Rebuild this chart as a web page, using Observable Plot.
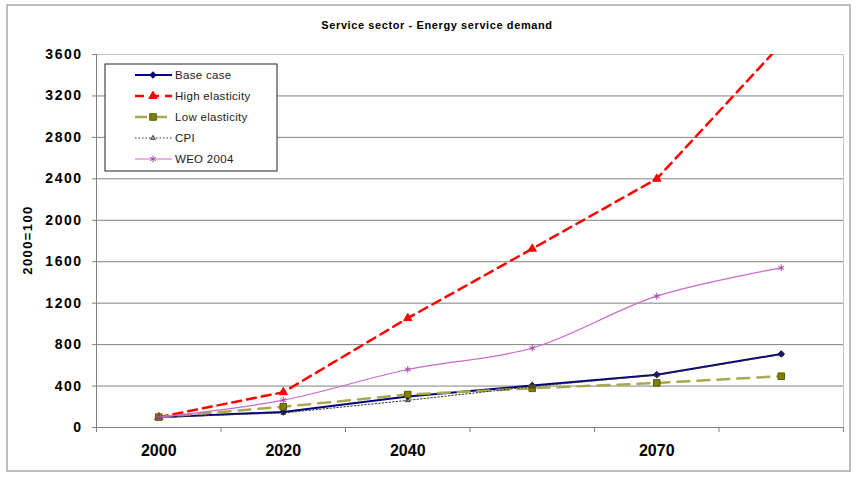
<!DOCTYPE html>
<html>
<head>
<meta charset="utf-8">
<script src="https://cdn.jsdelivr.net/npm/d3@7"></script>
<script src="https://cdn.jsdelivr.net/npm/@observablehq/plot@0.6"></script>
<style>
  body { margin: 0; background: #fff; }
  #chart { width: 856px; height: 477px; }
</style>
</head>
<body>
<div id="chart"></div>
<script>
// Index values (2000 = 100) for each scenario, one entry per period
const tickLabels = ["2000", "2020", "2040", "", "2070", ""];
const baseCase = [100, 150, 300, 405, 510, 710];
const highElasticity = [100, 340, 1055, 1725, 2400, 3700];
const lowElasticity = [100, 200, 318, 378, 430, 495];
const cpi = [100, 140, 262, 395, 505, 705];
const weo2004 = [100, 264, 560, 767, 1268, 1541];
const yTicks = [0, 400, 800, 1200, 1600, 2000, 2400, 2800, 3200, 3600];

const series = [
  { name: "Base case", values: baseCase, stroke: "#000080", width: 2, dash: null,
    curve: "linear", symbol: "diamond2", r: 2.9, fill: "#000080", mstroke: "#000080" },
  { name: "High elasticity", values: highElasticity, stroke: "#ff0000", width: 2.5, dash: "9,6",
    curve: "linear", symbol: "triangle", r: 3.1, fill: "#ff0000", mstroke: "#ff0000" },
  { name: "Low elasticity", values: lowElasticity, stroke: "#a8a850", width: 2.5, dash: "12,8",
    curve: "linear", symbol: "square", r: 3.7, fill: "#808000", mstroke: "#5a5a00" },
  { name: "CPI", values: cpi, stroke: "#333333", width: 1, dash: "1.5,2",
    curve: "linear", symbol: "triangle2", r: 2.2, fill: "none", mstroke: "#333333" },
  { name: "WEO 2004", values: weo2004, stroke: "#cc66cc", width: 1.2, dash: null,
    curve: "catmull-rom", symbol: "asterisk", r: 3.2, fill: "none", mstroke: "#aa44aa" }
];

const rowsOf = (s) => s.values.map((v, i) => ({ i, v }));
const centers = tickLabels.map((_, i) => i);
const boundaries = [...centers.map((i) => i - 0.5), centers.length - 0.5];
const xMin = boundaries[0], xMax = boundaries[boundaries.length - 1];

const marks = [
  Plot.gridY(yTicks.slice(1, -1), { stroke: "#808080", strokeOpacity: 1 }),
  Plot.ruleY([yTicks[yTicks.length - 1]], { stroke: "#c4c4c4" }),
  Plot.ruleX([xMax], { stroke: "#c4c4c4" }),
  Plot.ruleX([xMin], { stroke: "#808080" }),
  Plot.ruleY([0], { stroke: "#808080" }),
  Plot.axisY(yTicks, { tickSize: 4, tickPadding: 10, fontSize: 14, fontWeight: "bold",
    stroke: "#808080", fill: "#000", tickFormat: (d) => String(d), label: null }),
  Plot.axisX(boundaries, { tickSize: 5, tickFormat: () => "", stroke: "#808080", label: null }),
  Plot.axisX(centers, { tickSize: 0, tickPadding: 17, fontSize: 16, fontWeight: "bold",
    fill: "#000", tickFormat: (i) => tickLabels[i], label: null })
];

for (const s of series) {
  marks.push(Plot.line(rowsOf(s), { x: "i", y: "v", stroke: s.stroke, strokeWidth: s.width,
    strokeDasharray: s.dash, curve: s.curve, clip: true }));
  marks.push(Plot.dot(rowsOf(s), { x: "i", y: "v", symbol: s.symbol, r: s.r,
    fill: s.fill, stroke: s.mstroke, strokeWidth: 1, clip: true }));
}

const chart = Plot.plot({
  width: 856,
  height: 477,
  marginLeft: 96,
  marginRight: 13,
  marginTop: 54,
  marginBottom: 50,
  style: { fontFamily: "'Liberation Sans', Arial, sans-serif", background: "#fff", overflow: "visible" },
  x: { type: "linear", domain: [xMin, xMax], axis: null },
  y: { domain: [0, 3600], axis: null },
  marks
});

document.getElementById("chart").appendChild(chart);

const svg = d3.select(chart);
svg.selectAll('g[aria-label="y-axis tick label"] text').style("letter-spacing", "1.5px");

// Outer chart border
svg.append("rect")
  .attr("x", 7).attr("y", 5).attr("width", 843).attr("height", 466)
  .attr("fill", "none").attr("stroke", "#a8a8a8").attr("stroke-width", 1.5);

// Title
svg.append("text")
  .attr("x", 437).attr("y", 29)
  .attr("text-anchor", "middle")
  .attr("font-size", 11).attr("font-weight", "bold")
  .style("letter-spacing", "0.6px")
  .attr("fill", "#000")
  .text("Service sector - Energy service demand");

// Y axis title
svg.append("text")
  .attr("transform", "translate(32,240) rotate(-90)")
  .attr("text-anchor", "middle")
  .attr("font-size", 13).attr("font-weight", "bold")
  .style("letter-spacing", "1.4px")
  .attr("fill", "#000")
  .text("2000=100");

// Legend
const symbolTypes = {
  diamond2: d3.symbolDiamond2, triangle: d3.symbolTriangle, square: d3.symbolSquare,
  triangle2: d3.symbolTriangle2, asterisk: d3.symbolAsterisk
};
const legend = svg.append("g").attr("transform", "translate(105,64)");
legend.append("rect")
  .attr("width", 172).attr("height", 107)
  .attr("fill", "#fff").attr("stroke", "#222").attr("stroke-width", 1);
series.forEach((s, k) => {
  const y = 11 + k * 21;
  const item = legend.append("g").attr("transform", `translate(0,${y})`);
  item.append("line")
    .attr("x1", 30).attr("x2", 67)
    .attr("stroke", s.stroke).attr("stroke-width", s.width)
    .attr("stroke-dasharray", s.dash);
  item.append("path")
    .attr("transform", "translate(48,0)")
    .attr("d", d3.symbol(symbolTypes[s.symbol], s.r * s.r * Math.PI)())
    .attr("fill", s.fill).attr("stroke", s.mstroke).attr("stroke-width", 1);
  item.append("text")
    .attr("x", 70).attr("dy", "0.35em")
    .attr("text-anchor", "start")
    .attr("font-size", 11.5)
    .style("letter-spacing", "0.3px")
    .attr("fill", "#222")
    .text(s.name);
});
</script>
</body>
</html>
